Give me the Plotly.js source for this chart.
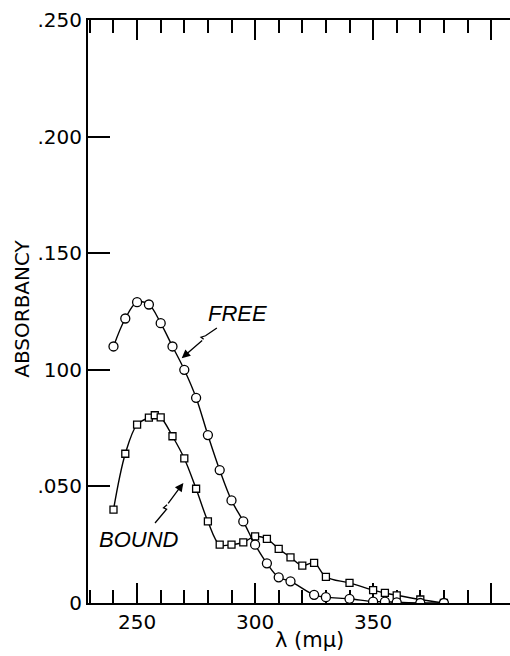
<!DOCTYPE html>
<html>
<head>
<meta charset="utf-8">
<script src="https://cdn.plot.ly/plotly-3.0.1.min.js"></script>
<style>
  html, body { margin: 0; padding: 0; background: #fff; }
  #chart { width: 510px; height: 656px; }
</style>
</head>
<body>
<div id="chart"></div>
<script>
// Absorption spectra: free vs. bound form
const freeWavelength = [240, 245, 250, 255, 260, 265, 270, 275, 280, 285, 290, 295, 300, 305, 310, 315, 325, 330, 340, 350, 355, 360, 370, 380];
const freeAbsorbancy = [0.110, 0.122, 0.129, 0.128, 0.120, 0.110, 0.100, 0.088, 0.072, 0.057, 0.044, 0.035, 0.025, 0.017, 0.011, 0.0093, 0.0035, 0.0025, 0.0018, 0.0006, 0.0006, 0.0003, 0, 0];

const boundWavelength = [240, 245, 250, 255, 257.5, 260, 265, 270, 275, 280, 285, 290, 295, 300, 305, 310, 315, 320, 325, 330, 340, 350, 355, 360, 370, 380];
const boundAbsorbancy = [0.040, 0.064, 0.0765, 0.0795, 0.0805, 0.0796, 0.0715, 0.062, 0.049, 0.035, 0.025, 0.025, 0.026, 0.0286, 0.0275, 0.0232, 0.0196, 0.016, 0.0172, 0.0112, 0.0086, 0.0055, 0.0043, 0.0033, 0.0015, 0];

const yTickVals = [0, 0.05, 0.10, 0.15, 0.20, 0.25];
const yTickText = ['0', '.050', '100', '.150', '.200', '.250'];

const INK = '#000';
const FONT = 'DejaVu Sans, sans-serif';
const X_RANGE = [229.2, 408];

const traces = [
  {
    x: boundWavelength, y: boundAbsorbancy, name: 'BOUND',
    type: 'scatter', mode: 'lines+markers',
    line: { color: INK, width: 1.4, shape: 'spline', smoothing: 1 },
    marker: { symbol: 'square', size: 7, color: '#fff', line: { color: INK, width: 1.3 } }
  },
  {
    x: freeWavelength, y: freeAbsorbancy, name: 'FREE',
    type: 'scatter', mode: 'lines+markers',
    line: { color: INK, width: 1.4, shape: 'spline', smoothing: 1 },
    marker: { symbol: 'circle', size: 9, color: '#fff', line: { color: INK, width: 1.3 } }
  }
];

// lightning-bolt leaders for the curve labels
const bolt = (pts) => 'M ' + pts.map(p => p[0] + ',' + p[1]).join(' L ');
const freeBolt = [[283.8, 0.1179], [279.0, 0.1146], [277.1, 0.1140], [278.2, 0.1131]];
const boundBolt = [[257.6, 0.0343], [262.5, 0.0402], [261.2, 0.0408], [262.7, 0.0421]];

const layout = {
  width: 510, height: 656,
  margin: { l: 88, r: 0, t: 20, b: 53 },
  paper_bgcolor: '#fff', plot_bgcolor: 'rgba(0,0,0,0)',
  showlegend: false,
  font: { family: FONT, color: INK },
  xaxis: {
    range: X_RANGE,
    tickmode: 'linear', tick0: 0, dtick: 50,
    labelalias: { '400': '' },
    ticks: 'inside', ticklen: 20, tickwidth: 2, tickcolor: INK,
    minor: { tickmode: 'linear', tick0: 0, dtick: 10, ticks: 'inside', ticklen: 13, tickwidth: 2, tickcolor: INK, showgrid: false },
    showline: true, linewidth: 2, linecolor: INK, mirror: 'allticks',
    showgrid: false, zeroline: false, layer: 'below traces',
    tickfont: { family: FONT, size: 20, color: INK }
  },
  yaxis: {
    range: [0, 0.25],
    tickmode: 'array', tickvals: yTickVals, ticktext: yTickText,
    ticks: 'inside', ticklen: 22, tickwidth: 2, tickcolor: INK,
    showline: true, linewidth: 2, linecolor: INK, mirror: false,
    showgrid: false, zeroline: false, layer: 'below traces',
    tickfont: { family: FONT, size: 20, color: INK }
  },
  shapes: [
    { type: 'path', xref: 'x', yref: 'y', path: bolt(freeBolt), line: { color: INK, width: 1.3 } },
    { type: 'path', xref: 'x', yref: 'y', path: bolt(boundBolt), line: { color: INK, width: 1.3 } }
  ],
  annotations: [
    { text: '<i>FREE</i>', x: 292.6, y: 0.1243, xref: 'x', yref: 'y', showarrow: false,
      font: { family: 'Liberation Sans, sans-serif', size: 22, color: INK } },
    { text: '<i>BOUND</i>', x: 250.6, y: 0.0272, xref: 'x', yref: 'y', showarrow: false,
      font: { family: 'Liberation Sans, sans-serif', size: 22, color: INK } },
    { text: '', x: 268.9, y: 0.1050, xref: 'x', yref: 'y',
      ax: freeBolt[3][0], ay: freeBolt[3][1], axref: 'x', ayref: 'y',
      showarrow: true, arrowhead: 2, arrowsize: 1.3, arrowwidth: 1.3, arrowcolor: INK },
    { text: '', x: 269.6, y: 0.0515, xref: 'x', yref: 'y',
      ax: boundBolt[3][0], ay: boundBolt[3][1], axref: 'x', ayref: 'y',
      showarrow: true, arrowhead: 2, arrowsize: 1.3, arrowwidth: 1.3, arrowcolor: INK },
    { text: 'λ (mμ)', xref: 'paper', yref: 'paper', x: 0.526, y: -0.064,
      xanchor: 'center', yanchor: 'middle', showarrow: false,
      font: { family: FONT, size: 21, color: INK } },
    { text: 'ABSORBANCY', xref: 'paper', yref: 'paper', x: -0.155, y: 0.504,
      xanchor: 'center', yanchor: 'middle', textangle: -90, showarrow: false,
      font: { family: FONT, size: 20, color: INK } }
  ]
};

Plotly.newPlot('chart', traces, layout, { displayModeBar: false, staticPlot: true });
</script>
</body>
</html>
